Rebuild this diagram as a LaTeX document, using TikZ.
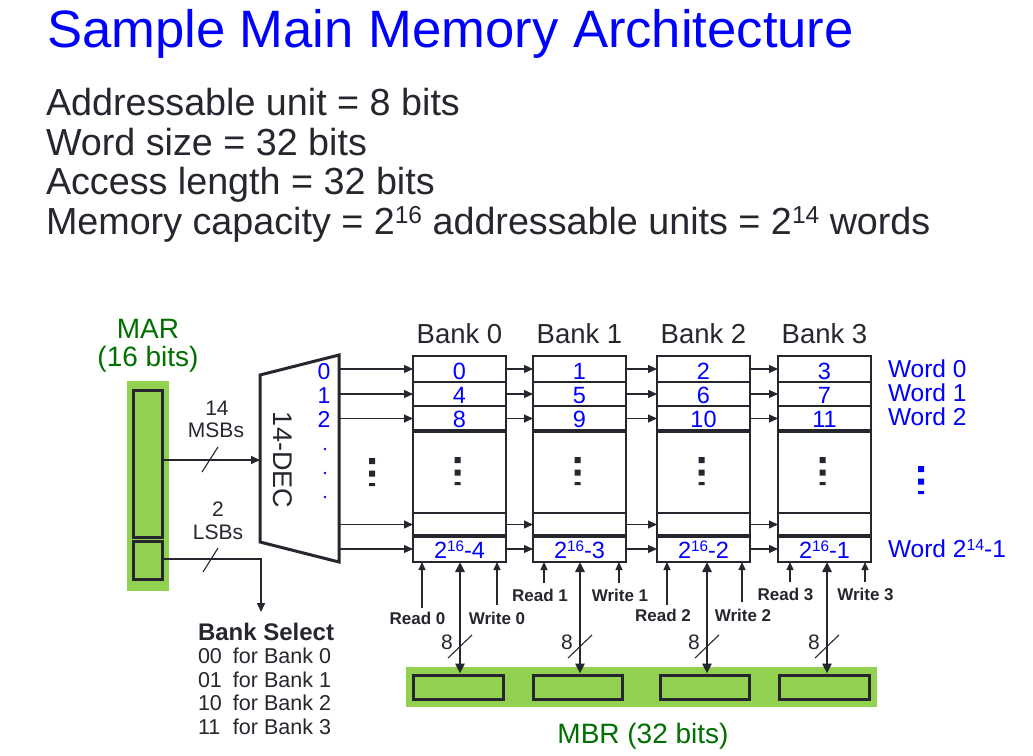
\documentclass[tikz,border=0pt]{standalone}
\usepackage{fontspec}
\setmainfont{Liberation Sans}
\usetikzlibrary{arrows.meta}
\definecolor{ink}{RGB}{38,38,46}
\definecolor{tblue}{RGB}{0,0,255}
\definecolor{tgreen}{RGB}{0,112,0}
\definecolor{regfill}{RGB}{146,208,80}
\newcommand\fs[1]{\fontsize{#1}{#1}\selectfont}
\newcommand\upnum[1]{\raisebox{0.28em}{\scalebox{0.65}{#1}}}
% three stacked square dots (vertical ellipsis)
\newcommand\sqdots[3]{\fill[#3] (#1-3,#2) rectangle ++(6,6) (#1-3,#2+12.5) rectangle ++(6,6) (#1-3,#2+25) rectangle ++(6,3);}
\begin{document}
\begin{tikzpicture}[x=1pt,y=-1pt,
  txt/.style={inner sep=0pt,outer sep=0pt,text=ink},
  bluetxt/.style={inner sep=0pt,outer sep=0pt,text=tblue},
  grntxt/.style={inner sep=0pt,outer sep=0pt,text=tgreen,font=\fs{28}},
  cell/.style={draw=ink,line width=2.2pt,minimum width=93pt,inner sep=0pt,outer sep=0pt},
  reg/.style={draw=ink,line width=3pt,fill=regfill,inner sep=0pt},
  regbg/.style={fill=regfill,inner sep=0pt,outer sep=0pt},
  arr/.style={draw=ink,line width=1.1pt,-{Triangle[length=9pt,width=8pt]}},
  ctl/.style={draw=ink,line width=1.2pt,-{Triangle[length=8pt,width=7pt]}},
  dat/.style={draw=ink,line width=2.6pt,{Triangle[length=10pt,width=9pt]}-{Triangle[length=10pt,width=9pt]}},
  bus/.style={draw=ink,line width=2pt},
  slash/.style={draw=ink,line width=1.1pt},
  rw/.style={txt,anchor=base,font=\bfseries\fs{17}},
]
\path[use as bounding box,fill=white] (0,0) rectangle (1033,755);

% heading and parameters
\node[bluetxt,anchor=base west,font=\fs{52.6}] (title) at (47,47) {Sample Main Memory Architecture};
\node[txt,anchor=base west,font=\fs{37.7}] (p1) at (46,115) {Addressable unit = 8 bits};
\node[txt,anchor=base west,font=\fs{37.7}] (p2) at (46,155) {Word size = 32 bits};
\node[txt,anchor=base west,font=\fs{37.7}] (p3) at (46,194) {Access length = 32 bits};
\node[txt,anchor=base west,font=\fs{37.7}] (p4) at (46,234) {Memory capacity = 2\upnum{16} addressable units = 2\upnum{14} words};

% MAR register
\node[grntxt,anchor=base] (marname) at (148,338) {MAR};
\node[grntxt,anchor=base] (marbits) at (148,366) {(16 bits)};
\node[regbg,minimum width=42pt,minimum height=210pt] (marbg) at (148,486) {};
\node[reg,minimum width=29pt,minimum height=147pt] (marhi) at (147.5,463.5) {};
\node[reg,minimum width=29pt,minimum height=38pt] (marlo) at (147.5,560) {};

% 14-to-2^14 decoder
\draw[ink,line width=3pt,line join=miter] (260,375) -- (339,355) -- (339,562) -- (260,542) -- cycle;
\node[txt,rotate=-90,font=\fs{27}] (declab) at (283,460) {14-DEC};
\node[bluetxt,anchor=base,font=\fs{23}] (dl0) at (324,379) {0};
\node[bluetxt,anchor=base,font=\fs{23}] (dl1) at (324,403) {1};
\node[bluetxt,anchor=base,font=\fs{23}] (dl2) at (324,427) {2};
\fill[tblue] (325,449) circle (1.4) (325,473) circle (1.4) (325,497) circle (1.4);
\coordinate (decin) at (260,460);
\coordinate (o0) at (339,369);
\coordinate (o1) at (339,394);
\coordinate (o2) at (339,418.5);
\coordinate (o4) at (339,524.5);
\coordinate (o5) at (339,549);

% address fields
\draw[bus,-{Triangle[length=9pt,width=8pt]}] (marhi.east |- decin) -- (decin);
\draw[slash] (202,472) -- (218,447);
\node[txt,anchor=base,font=\fs{21}] (msbn) at (217,415) {14};
\node[txt,anchor=base,font=\fs{21}] (msbt) at (216,437) {MSBs};
\coordinate (bsbend) at (261,559);
\coordinate (bsarrow) at (261,612);
\draw[bus,-{Triangle[length=9pt,width=8pt]}] (marlo.east |- bsbend) -- (bsbend) -- (bsarrow);
\draw[slash] (203,572) -- (218,548);
\node[txt,anchor=base,font=\fs{21}] (lsbn) at (218,516) {2};
\node[txt,anchor=base,font=\fs{21}] (lsbt) at (218,539) {LSBs};

% bank select table
\node[txt,anchor=base west,font=\bfseries\fs{24}] (bsel) at (198,640) {Bank Select};
\node[txt,anchor=base west,font=\fs{21.5}] (bs0) at (198,663.5) {\makebox[35pt][l]{00}for Bank 0};
\node[txt,anchor=base west,font=\fs{21.5}] (bs1) at (198,687) {\makebox[35pt][l]{01}for Bank 1};
\node[txt,anchor=base west,font=\fs{21.5}] (bs2) at (198,710.5) {\makebox[35pt][l]{10}for Bank 2};
\node[txt,anchor=base west,font=\fs{21.5}] (bs3) at (198,734) {\makebox[35pt][l]{11}for Bank 3};

% memory banks
\foreach \i/\bx/\a/\b/\c/\d in {0/413/0/4/8/4,1/533/1/5/9/3,2/657/2/6/10/2,3/778/3/7/11/1}{
  \pgfmathsetmacro\cx{\bx+46.5}
  \node[txt,anchor=base,font=\fs{27.5}] (bank\i) at (\cx,343) {Bank \i};
  \node[cell,minimum height=26pt] (b\i-0) at (\cx,369) {};
  \node[cell,minimum height=24pt] (b\i-1) at (\cx,394) {};
  \node[cell,minimum height=25pt] (b\i-2) at (\cx,418.5) {};
  \node[cell,minimum height=82pt] (b\i-3) at (\cx,472) {};
  \node[cell,minimum height=23pt] (b\i-4) at (\cx,524.5) {};
  \node[cell,minimum height=26pt] (b\i-5) at (\cx,549) {};
  \draw[ink,line width=2.8pt] (b\i-0.north west) rectangle (b\i-5.south east);
  \draw[ink,line width=3.4pt] (b\i-2.south west) -- (b\i-2.south east);
  \draw[ink,line width=3.4pt] (b\i-4.south west) -- (b\i-4.south east);
  \node[bluetxt,anchor=base,font=\fs{23.5}] (w\i-0) at (\cx,379) {\a};
  \node[bluetxt,anchor=base,font=\fs{23.5}] (w\i-1) at (\cx,403) {\b};
  \node[bluetxt,anchor=base,font=\fs{23.5}] (w\i-2) at (\cx,427) {\c};
  \node[bluetxt,anchor=base,font=\fs{23.5}] (w\i-5) at (\cx,558) {2\upnum{16}-\d};
  \sqdots{\cx-2}{457}{ink}
}

% word lines from the decoder and between the banks
\foreach \j in {0,1,2,4,5}{
  \draw[arr] (o\j) -- (b0-\j.west);
}
\foreach \i/\k in {0/1,1/2,2/3}{
  \foreach \j in {0,1,2,4,5}{
    \draw[arr] (b\i-\j.east) -- (b\k-\j.west);
  }
}
\sqdots{372}{458}{ink}

% word labels
\node[bluetxt,anchor=base west,font=\fs{24.5}] (wd0) at (888,377) {Word 0};
\node[bluetxt,anchor=base west,font=\fs{24.5}] (wd1) at (888,401) {Word 1};
\node[bluetxt,anchor=base west,font=\fs{24.5}] (wd2) at (888,425) {Word 2};
\node[bluetxt,anchor=base west,font=\fs{24.5}] (wdn) at (888,557) {Word 2\upnum{14}-1};
\sqdots{921}{466}{tblue}

% MBR register
\node[regbg,minimum width=471pt,minimum height=40pt] (mbrbg) at (641.5,687) {};
\node[reg,minimum width=90pt,minimum height=24pt] (m0) at (458,687) {};
\node[reg,minimum width=89pt,minimum height=24pt] (m1) at (577.5,687) {};
\node[reg,minimum width=89pt,minimum height=24pt] (m2) at (704.5,687) {};
\node[reg,minimum width=90pt,minimum height=24pt] (m3) at (824,687) {};
\node[grntxt,anchor=base] (mbrlab) at (643,743) {MBR (32 bits)};

% read / write controls and data paths
\foreach \i/\rx/\ry/\wx/\wy/\rl/\wl/\lb/\dx in {0/422/608/497/605/417.5/497/624/460,1/544/583/619/583/540/620/601/580,2/667/605/742/602/663/743/621/707,3/790/582/865/582/785.5/865.5/600/827}{
  \coordinate (rs\i) at (\rx,\ry);
  \coordinate (ws\i) at (\wx,\wy);
  \coordinate (dx\i) at (\dx,640);
  \node[rw] (rd\i) at (\rl,\lb) {Read \i};
  \node[rw] (wr\i) at (\wl,\lb) {Write \i};
  \draw[ctl] (rs\i) -- (rs\i |- b\i-5.south);
  \draw[ctl] (ws\i) -- (ws\i |- b\i-5.south);
  \draw[dat] (dx\i |- b\i-5.south) -- (dx\i |- m\i.north);
  \draw[slash] (\dx-12,658) -- (\dx+12,635);
  \node[txt,anchor=base,font=\fs{21}] (eight\i) at (\dx-13,649) {8};
}
\end{tikzpicture}
\end{document}
